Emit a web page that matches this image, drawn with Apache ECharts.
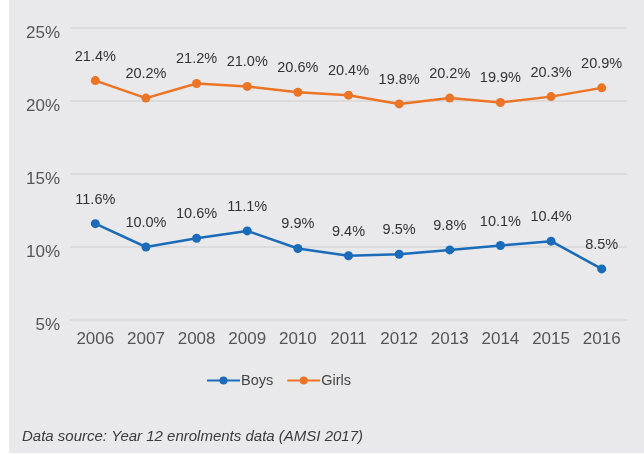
<!DOCTYPE html>
<html>
<head>
<meta charset="utf-8">
<script src="https://cdn.jsdelivr.net/npm/echarts@6/dist/echarts.min.js"></script>
<style>
  html, body { margin: 0; padding: 0; background: #ffffff; }
  #chart { width: 644px; height: 455px; }
</style>
</head>
<body>
<div id="chart"></div>
<script>
var years = ['2006','2007','2008','2009','2010','2011','2012','2013','2014','2015','2016'];
var boys = [11.6, 10.0, 10.6, 11.1, 9.9, 9.4, 9.5, 9.8, 10.1, 10.4, 8.5];
var girls = [21.4, 20.2, 21.2, 21.0, 20.6, 20.4, 19.8, 20.2, 19.9, 20.3, 20.9];
var sourceNote = 'Data source: Year 12 enrolments data (AMSI 2017)';

var fontName = 'Liberation Sans';

function lineSeries(name, data, color) {
    return {
        name: name,
        type: 'line',
        data: data,
        symbol: 'circle',
        symbolSize: 9,
        lineStyle: { color: color, width: 2.5 },
        itemStyle: { color: color },
        label: {
            show: true,
            position: 'top',
            distance: 12,
            formatter: function (p) { return p.value.toFixed(1) + '%'; },
            color: '#333',
            fontSize: 14.5,
            fontFamily: fontName
        }
    };
}

var option = {
    animation: false,
    textStyle: { fontFamily: fontName },
    graphic: [{
        type: 'rect',
        z: -10,
        shape: { x: 9, y: 0, width: 635, height: 453 },
        style: { fill: '#e9e9eb' }
    }],
    title: {
        text: sourceNote,
        left: 22,
        top: 429,
        padding: 0,
        textStyle: {
            fontSize: 15,
            fontStyle: 'italic',
            fontWeight: 'normal',
            color: '#3a3a3a',
            fontFamily: fontName
        }
    },
    legend: {
        data: ['Boys', 'Girls'],
        left: 206,
        top: 373,
        padding: 0,
        itemWidth: 33,
        itemHeight: 10,
        itemGap: 13,
        textStyle: { fontSize: 14.5, color: '#444', fontFamily: fontName, padding: [0, 0, 0, -4] }
    },
    grid: { left: 70, right: 17, top: 28, bottom: 135 },
    xAxis: {
        type: 'category',
        data: years,
        boundaryGap: true,
        axisLine: { show: false },
        axisTick: { show: false },
        axisLabel: { color: '#555', fontSize: 17, margin: 11, fontFamily: fontName }
    },
    yAxis: {
        type: 'value',
        min: 5,
        max: 25,
        interval: 5,
        axisLine: { show: false },
        axisTick: { show: false },
        axisLabel: {
            color: '#555', fontSize: 17, margin: 10, formatter: '{value}%',
            fontFamily: fontName, verticalAlign: 'top', lineHeight: 10
        },
        splitLine: { lineStyle: { color: '#d6d6d6', width: 1.5 } }
    },
    series: [
        lineSeries('Boys', boys, '#1a6bb9'),
        lineSeries('Girls', girls, '#ed7425')
    ]
};

var myChart = echarts.init(document.getElementById('chart'));
myChart.setOption(option);
</script>
</body>
</html>
